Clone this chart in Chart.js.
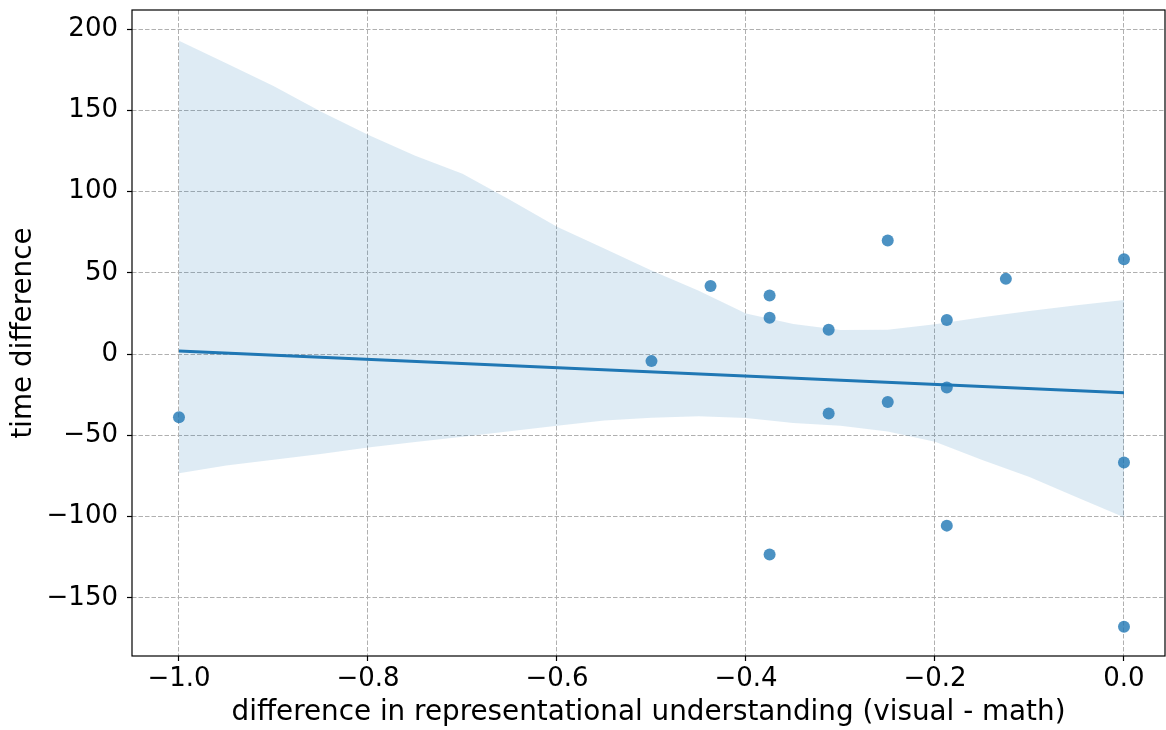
<!DOCTYPE html>
<html>
<head>
<meta charset="utf-8">
<script src="https://cdn.jsdelivr.net/npm/chart.js@4.4.0/dist/chart.umd.min.js"></script>
<style>
  html, body { margin: 0; padding: 0; background: #fff; }
  canvas { display: block; }
</style>
</head>
<body>
<canvas id="chart" width="1166" height="730"></canvas>
<script>
// scatter points
const ptX = [-1.0, -0.5, -0.4375, -0.375, -0.375, -0.375, -0.3125, -0.3125, -0.25, -0.25, -0.1875, -0.1875, -0.1875, -0.125, 0, 0, 0];
const ptY = [-38.8, -4.3, 41.9, 36.1, 22.4, -123.2, 15.0, -36.5, 69.9, -29.5, 21.0, -20.5, -105.5, 46.3, 58.3, -66.6, -167.7];

// regression line
const fitX = [-1.0, 0.0];
const fitY = [2.0, -23.8];

// confidence band
const bandX = [-1.0, -0.95, -0.9, -0.85, -0.8, -0.75, -0.7, -0.65, -0.6, -0.55, -0.5, -0.45, -0.4, -0.35, -0.3, -0.25, -0.2, -0.15, -0.1, -0.05, 0.0];
const bandUpper = [192.8, 179, 165, 149.2, 135, 122, 110.9, 95, 78.4, 65, 51.5, 39, 25, 18.5, 14.8, 15.0, 18.4, 22.7, 26.5, 30, 33.3];
const bandLower = [-73.3, -68.5, -65, -61.5, -57.4, -54, -50.8, -47.4, -44.0, -40.8, -39.1, -38.2, -39.3, -42.3, -44, -47.6, -53.9, -65.2, -75.6, -88, -100.4];

// axes
const xTicks = [-1.0, -0.8, -0.6, -0.4, -0.2, 0.0];
const yTicks = [-150, -100, -50, 0, 50, 100, 150, 200];

const blue = '#1f77b4';
const font = 'DejaVu Sans';

const pairs = (xs, ys) => xs.map((x, i) => ({ x: x, y: ys[i] }));
const fmt = (v, d) => (v < 0 ? '\u2212' : '') + Math.abs(v).toFixed(d);

// black box round the plot area
const frame = {
    id: 'frame',
    afterDraw(chart) {
        const { ctx, chartArea: a } = chart;
        ctx.save();
        ctx.strokeStyle = '#000';
        ctx.lineWidth = 1.2;
        ctx.strokeRect(a.left, a.top, a.right - a.left, a.bottom - a.top);
        ctx.restore();
    }
};

const gridOpts = {
    color: '#b0b0b0',
    lineWidth: 1,
    borderDash: [4.5, 2],
    tickColor: '#000',
    tickLength: 5,
    tickWidth: 1.2,
    tickBorderDash: []
};

new Chart(document.getElementById('chart'), {
    type: 'scatter',
    data: {
        datasets: [
            {
                data: pairs(fitX, fitY),
                showLine: true,
                borderColor: blue,
                borderWidth: 3,
                pointRadius: 0,
                fill: false,
                order: 0
            },
            {
                data: pairs(ptX, ptY),
                backgroundColor: 'rgba(31,119,180,0.8)',
                borderWidth: 0,
                pointRadius: 6,
                pointHoverRadius: 6,
                order: 1
            },
            {
                data: pairs(bandX, bandUpper),
                showLine: true,
                borderWidth: 0,
                borderColor: 'rgba(0,0,0,0)',
                pointRadius: 0,
                backgroundColor: 'rgba(31,119,180,0.15)',
                fill: '+1',
                order: 2
            },
            {
                data: pairs(bandX, bandLower),
                showLine: true,
                borderWidth: 0,
                borderColor: 'rgba(0,0,0,0)',
                pointRadius: 0,
                fill: false,
                order: 3
            }
        ]
    },
    options: {
        responsive: false,
        animation: false,
        devicePixelRatio: 1,
        layout: { autoPadding: false, padding: { top: 10, right: 1, bottom: 0, left: 0 } },
        plugins: {
            legend: { display: false },
            tooltip: { enabled: false }
        },
        scales: {
            x: {
                type: 'linear',
                min: -1.0497,
                max: 0.0434,
                afterBuildTicks: s => { s.ticks = xTicks.map(v => ({ value: v })); },
                afterFit: s => { s.height = 74; s.paddingLeft = 0; s.paddingRight = 0; },
                ticks: {
                    callback: v => fmt(v, 1),
                    font: { family: font, size: 26 },
                    color: '#000',
                    padding: 3,
                    maxRotation: 0,
                    autoSkip: false
                },
                grid: gridOpts,
                border: { display: false, dash: [4.5, 2] },
                title: {
                    display: true,
                    text: 'difference in representational understanding (visual - math)',
                    font: { family: font, size: 27.8 },
                    color: '#000',
                    padding: { top: 0, bottom: 1 }
                }
            },
            y: {
                type: 'linear',
                min: -185.7,
                max: 211.7,
                afterBuildTicks: s => { s.ticks = yTicks.map(v => ({ value: v })); },
                afterFit: s => { s.width = 132; s.paddingTop = 0; s.paddingBottom = 0; },
                ticks: {
                    callback: v => fmt(v, 0),
                    font: { family: font, size: 26 },
                    color: '#000',
                    padding: 9,
                    autoSkip: false
                },
                grid: gridOpts,
                border: { display: false, dash: [4.5, 2] },
                title: {
                    display: true,
                    text: 'time difference',
                    font: { family: font, size: 27.8 },
                    color: '#000',
                    padding: { top: 7, bottom: 0 }
                }
            }
        }
    },
    plugins: [frame]
});
</script>
</body>
</html>
